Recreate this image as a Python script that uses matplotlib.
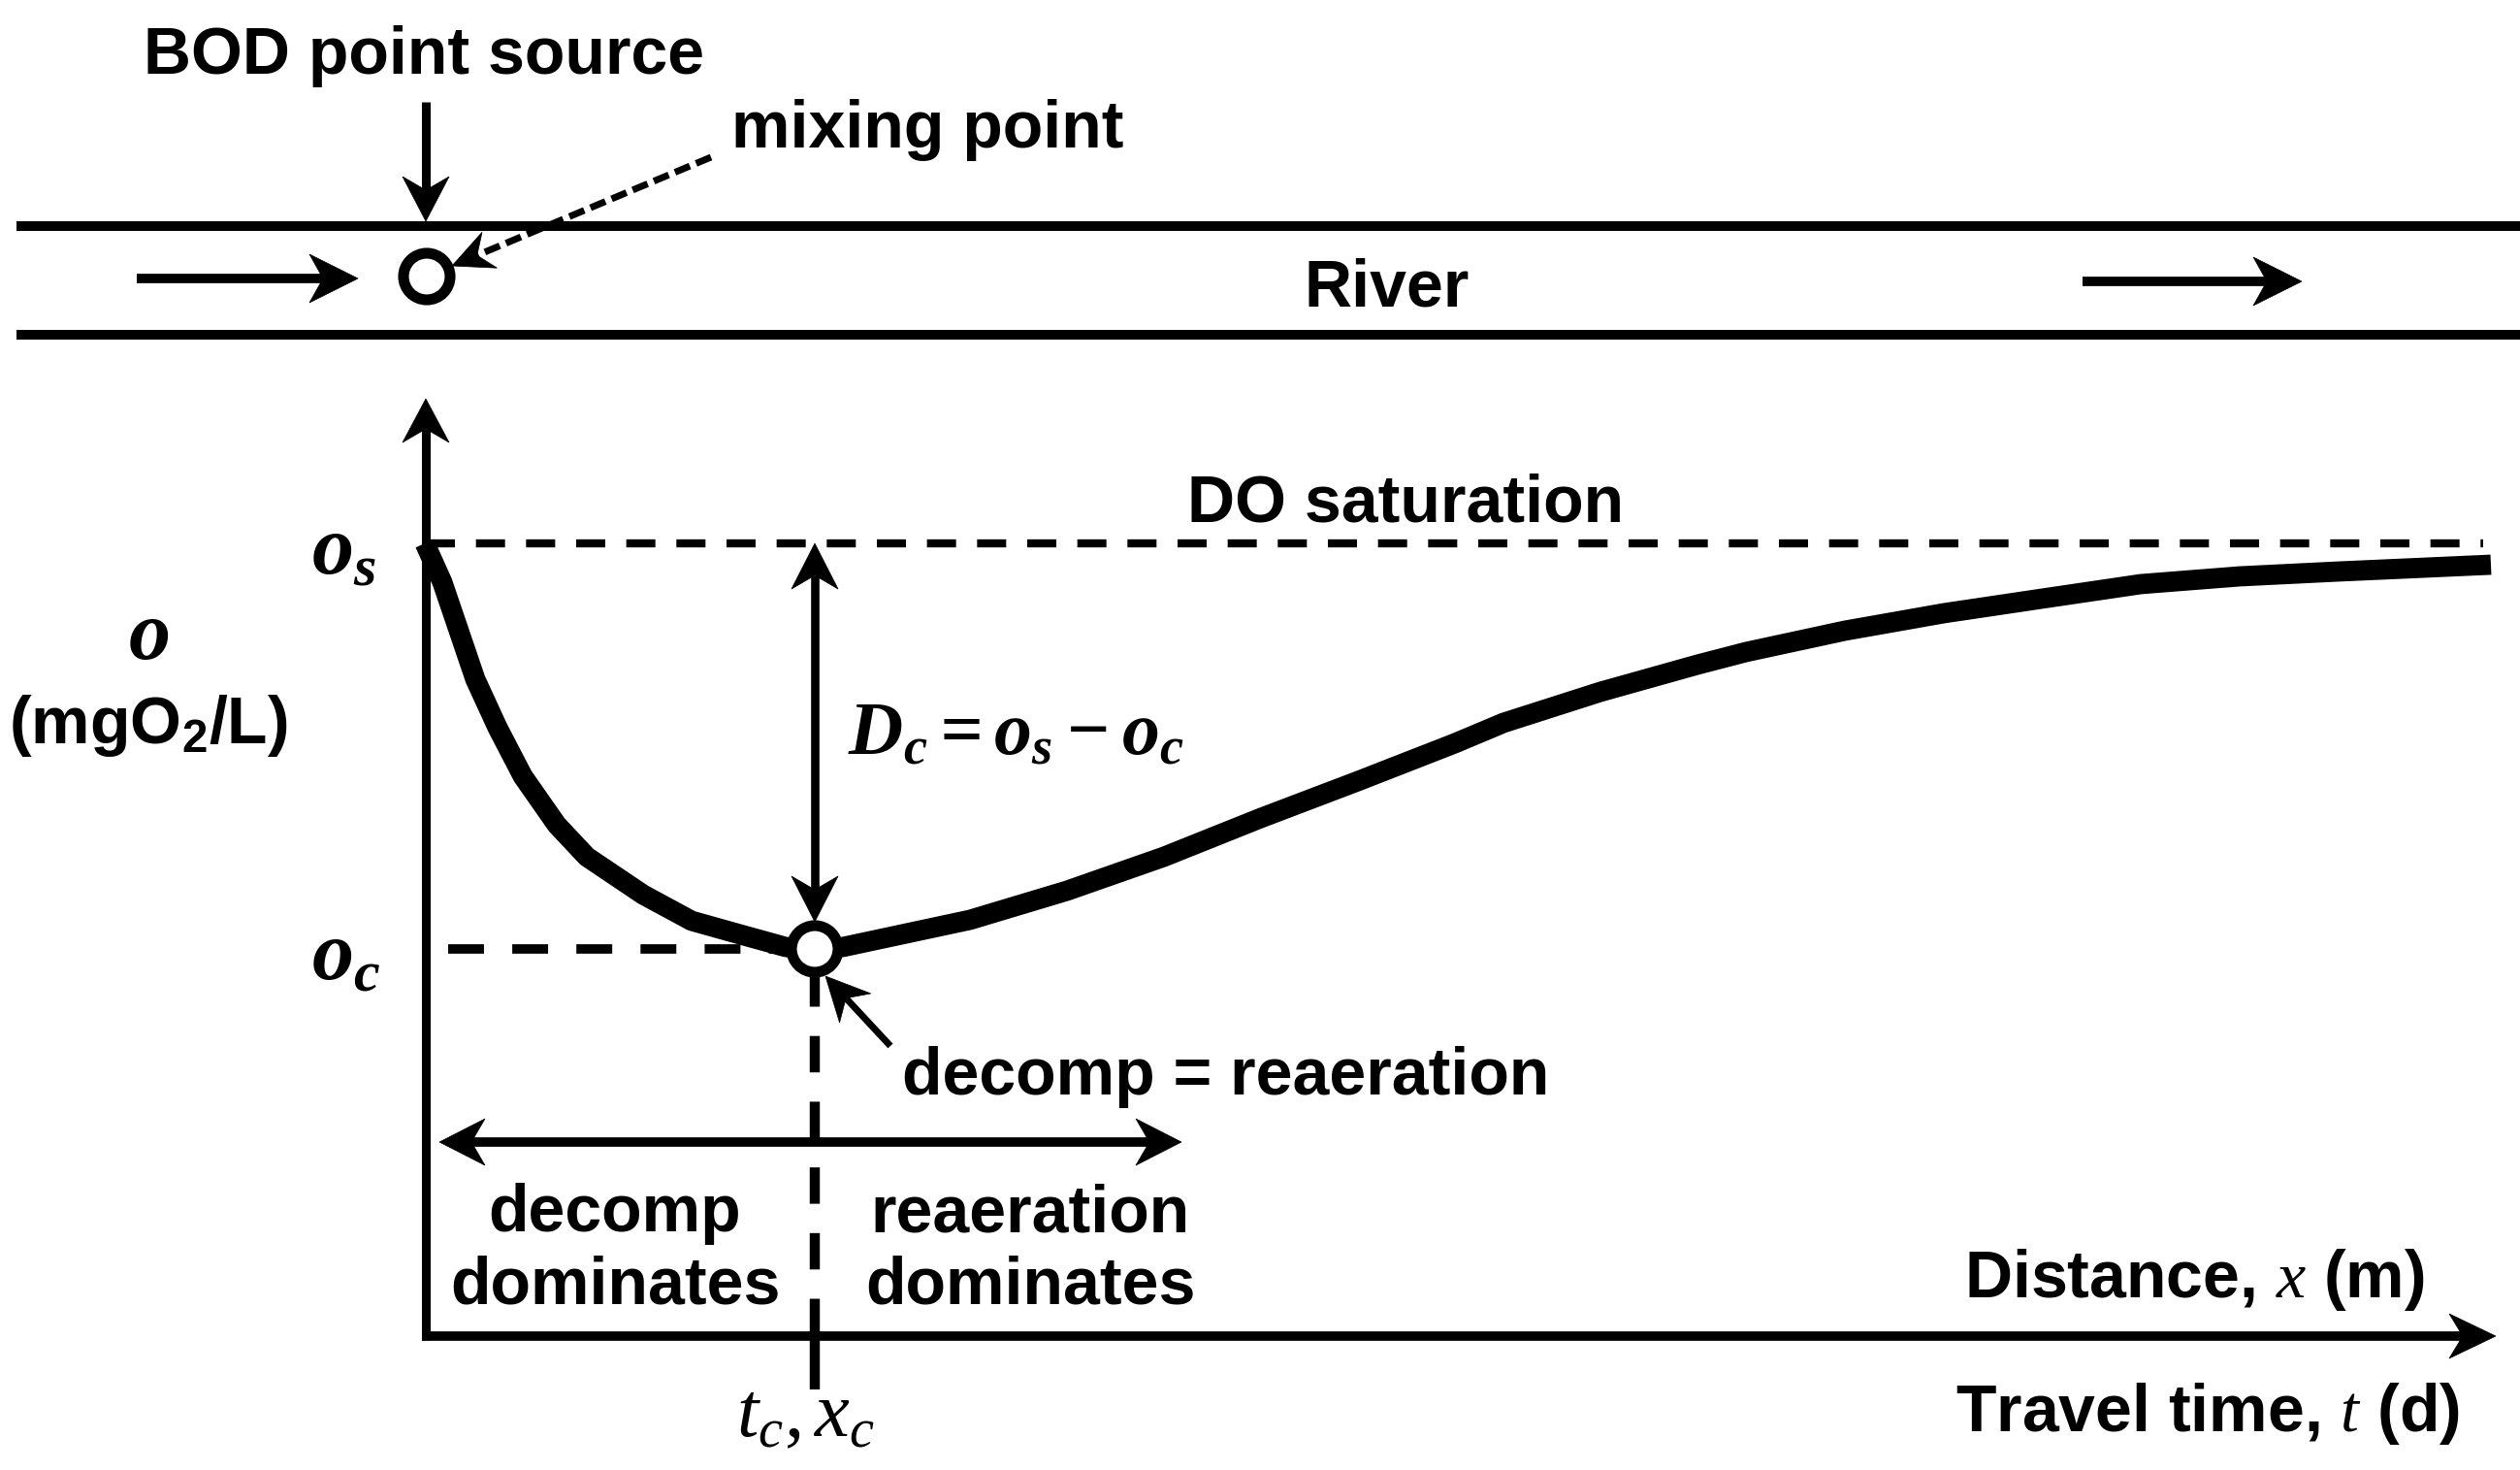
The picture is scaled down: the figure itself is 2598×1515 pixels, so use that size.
import numpy as np
import matplotlib
matplotlib.use("Agg")
import matplotlib.pyplot as plt
from matplotlib.patches import Polygon, Circle

plt.rcParams['font.family'] = 'Liberation Sans'
plt.rcParams['font.weight'] = 'bold'
plt.rcParams['mathtext.fontset'] = 'custom'
plt.rcParams['mathtext.rm'] = 'Liberation Serif:weight=normal'
plt.rcParams['mathtext.it'] = 'Liberation Serif:style=italic:weight=normal'
plt.rcParams['mathtext.bf'] = 'Liberation Serif:style=italic:weight=bold'
plt.rcParams['mathtext.sf'] = 'Liberation Sans:weight=bold'

# DO sag curve (pixel coords, y down)
curve_x = [438, 456, 473, 490, 513, 539, 574, 605, 663, 713, 763, 810, 840,
           869, 1000, 1100, 1200, 1300, 1400, 1500, 1550, 1650, 1750, 1800,
           1902, 2004, 2105, 2207, 2309, 2411, 2568]
curve_y = [560, 600, 650, 700, 750, 800, 850, 883, 922, 949, 963, 976, 978,
           976, 948, 918, 883, 843, 805, 766, 745, 713, 685, 672,
           650, 632, 617, 602, 594, 589, 582]

# key levels
o_s = 560      # DO saturation
o_c = 978      # critical DO
x_c = 840      # critical point
x0, y_axis_top = 439, 411
x_axis_y, x_axis_end = 1377, 2573

FS = 49
MS = 56

fig = plt.figure(figsize=(25.98, 15.15), dpi=100)
ax = fig.add_axes([0, 0, 1, 1])
ax.set_xlim(0, 2598)
ax.set_ylim(1515, 0)
ax.axis('off')


def head(tip, frm, L=47, W=24, notch=14):
    tip = np.array(tip, float)
    frm = np.array(frm, float)
    d = (tip - frm) / np.hypot(*(tip - frm))
    n = np.array([-d[1], d[0]])
    pts = [tip, tip - L * d + W * n, tip - (L - notch) * d, tip - L * d - W * n]
    ax.add_patch(Polygon(pts, closed=True, fc='k', ec='k', lw=0.5, zorder=5))
    return tip - (L - notch) * d


def arrow(p0, p1, lw=6, both=False, ls='-', L=47, W=24):
    a = head(p1, p0, L, W)
    b = np.array(p0, float)
    if both:
        b = head(p0, p1, L, W)
    ax.plot([b[0], a[0]], [b[1], a[1]], color='k', lw=lw, ls=ls,
            solid_capstyle='butt', dash_capstyle='butt', zorder=4)


# river banks
ax.plot([17, 2598], [233, 233], color='k', lw=7.2, solid_capstyle='butt')
ax.plot([17, 2598], [345, 345], color='k', lw=7.2, solid_capstyle='butt')
arrow((141, 287), (369, 287), lw=7, L=50, W=25)
arrow((2147, 290), (2373, 290), lw=7, L=50, W=25)
arrow((439, 105), (439, 228), lw=6.5, L=46, W=24)
arrow((733, 162), (466, 274), lw=5, ls=(0, (2.4, 1.0)), L=42, W=20)
ax.add_patch(Circle((440, 285), 24, fc='white', ec='k', lw=8, zorder=6))

ax.text(437, 76, 'BOD point source', fontsize=FS, ha='center', va='baseline')
ax.text(754, 152, 'mixing point', fontsize=FS, ha='left', va='baseline')
ax.text(1430, 316, 'River', fontsize=FS, ha='center', va='baseline')

# axes
arrow((x0, x_axis_y + 4), (x0, y_axis_top), lw=6.5, L=45, W=24)
arrow((x0 - 4, x_axis_y), (x_axis_end, x_axis_y), lw=7, L=48, W=23)

# saturation and critical levels
ax.plot([x0, 2560], [o_s, o_s], color='k', lw=6, ls=(0, (3.6, 2.6)),
        dash_capstyle='butt')
ax.plot([462, 820], [o_c, o_c], color='k', lw=7, ls=(0, (3.8, 3.0)),
        dash_capstyle='butt')
ax.plot([x_c, x_c], [1000, x_axis_y], color='k', lw=7.5, ls=(0, (3.6, 2.9)),
        dash_capstyle='butt')
ax.plot([x_c, x_c], [x_axis_y, 1432], color='k', lw=7.5, solid_capstyle='butt')

ax.plot(curve_x, curve_y, color='k', lw=15, solid_capstyle='butt',
        solid_joinstyle='round', zorder=3)
ax.add_patch(Circle((x_c, o_c), 24, fc='white', ec='k', lw=8, zorder=6))

arrow((x_c, o_s), (x_c, 950), lw=6.2, both=True)
arrow((918, 1078), (851, 1006), lw=5, L=45, W=22)
arrow((453, 1177), (1218, 1177), lw=7, both=True)

ax.text(1449, 538, 'DO saturation', fontsize=FS, ha='center', va='baseline')
ax.text(874, 778, r'$\mathbf{D_c = o_s - o_c}$', fontsize=MS, ha='left',
        va='baseline')
ax.text(930, 1128, 'decomp = reaeration', fontsize=FS, ha='left', va='baseline')
ax.text(634, 1343, 'decomp\ndominates', fontsize=FS, ha='center', va='baseline',
        linespacing=1.2, multialignment='center')
ax.text(1062, 1343, 'reaeration\ndominates', fontsize=FS, ha='center',
        va='baseline', linespacing=1.2, multialignment='center')
ax.text(2500, 1337, r'Distance, $x$ (m)', fontsize=FS, ha='right', va='baseline')
ax.text(2536, 1475, r'Travel time, $t$ (d)', fontsize=FS, ha='right',
        va='baseline')

ax.text(321, 592, r'$\mathbf{o_s}$', fontsize=MS + 6, ha='left', va='baseline')
ax.text(321, 1009, r'$\mathbf{o_c}$', fontsize=MS + 6, ha='left', va='baseline')
ax.text(153, 679, r'$\mathbf{o}$', fontsize=MS + 6, ha='center', va='baseline')
ax.text(153, 766, r'(mgO$_\mathsf{2}$/L)', fontsize=FS, ha='center',
        va='baseline')
ax.text(759, 1480, r'$t_c, x_c$', fontsize=MS + 2, ha='left', va='baseline')

fig.savefig('out.png', dpi=100)
